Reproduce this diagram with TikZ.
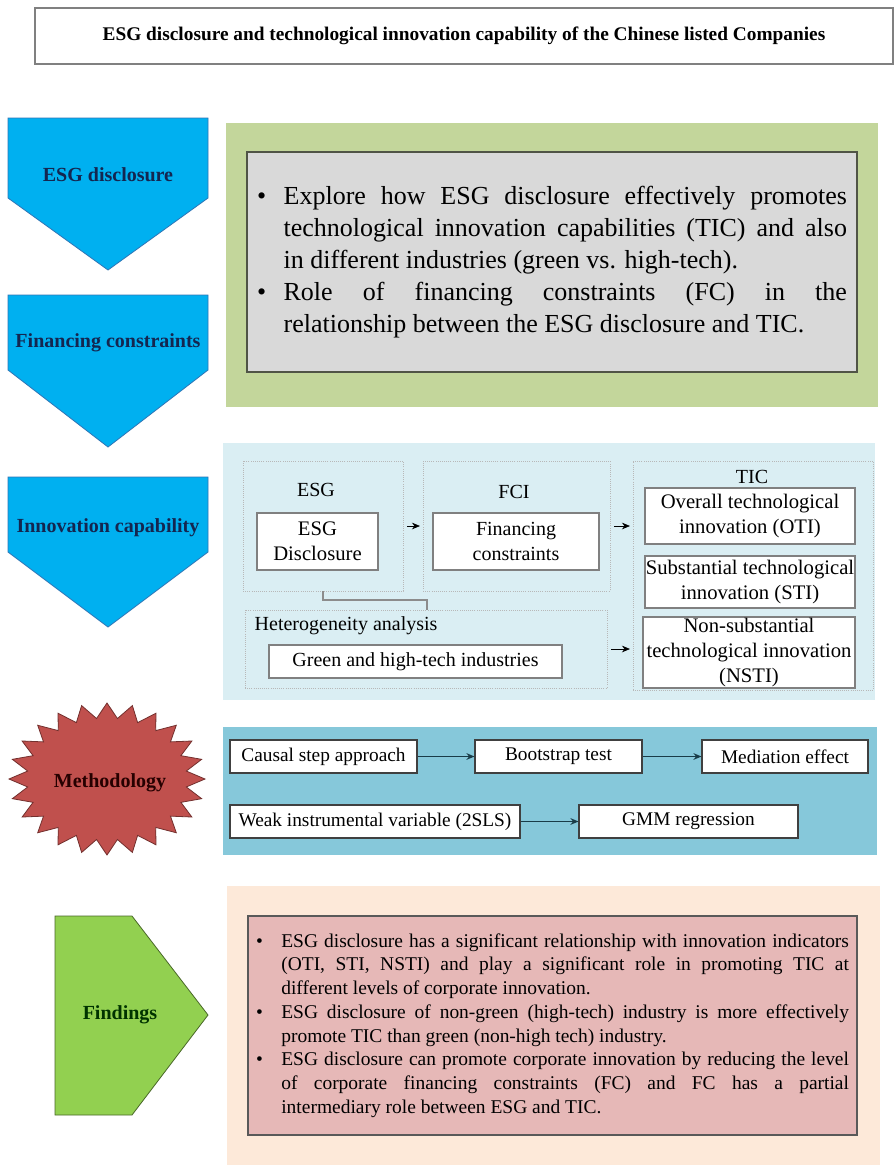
\documentclass[tikz,border=0pt]{standalone}
\usepackage{fontspec}
\setmainfont{Liberation Serif}
\usepackage{tikz}
\usetikzlibrary{arrows.meta, calc, shadows}
\usepackage{xcolor}
\definecolor{arrowblue}{RGB}{0,176,240}
\definecolor{arrowedge}{RGB}{46,117,182}
\definecolor{navytext}{RGB}{20,38,80}
\definecolor{aimgreen}{RGB}{195,214,155}
\definecolor{aimgray}{RGB}{217,217,217}
\definecolor{aimedge}{RGB}{80,84,70}
\definecolor{modelblue}{RGB}{218,238,243}
\definecolor{methodblue}{RGB}{134,200,218}
\definecolor{methodline}{RGB}{25,60,72}
\definecolor{starred}{RGB}{192,80,77}
\definecolor{findgreen}{RGB}{146,208,80}
\definecolor{findpeach}{RGB}{253,233,217}
\definecolor{findpink}{RGB}{230,184,183}
\newdimen\px \px=0.75pt
\newcommand{\bulletpar}[2]{\hangindent=#1\hangafter=1\noindent\makebox[#1][l]{\textbullet}#2\par}
\hyphenpenalty=10000
\exhyphenpenalty=10000

\begin{document}
\begin{tikzpicture}[x=0.75pt, y=-0.75pt,
  armlabel/.style={font=\fontsize{15}{17}\selectfont\bfseries},
  wbox/.style={draw=black!50, fill=white, line width=0.8pt, inner sep=0pt, align=center, font=\fontsize{15.5}{19}\selectfont},
  grp/.style={draw=black!28, densely dotted, line width=0.6pt, inner sep=0pt},
  grplabel/.style={font=\fontsize{15}{17}\selectfont},
  mbox/.style={draw=black!75, fill=white, line width=0.8pt, inner sep=0pt, minimum height=33\px, font=\fontsize{14.5}{17}\selectfont},
  tip/.style={-{Stealth[length=6pt,width=5pt]}, line width=0.5pt},
  mlink/.style={-{Stealth[length=6pt,width=5pt]}, draw=methodline, line width=1.3pt}]
  \useasboundingbox (0,0) rectangle (896,1165);
  \fill[white] (0,0) rectangle (896,1165);

  % title
  \node[draw=black!50, fill=white, line width=0.8pt, drop shadow={opacity=0.25, shadow xshift=1pt, shadow yshift=-1pt},
    minimum width=858\px, minimum height=56\px, font=\fontsize{14.5}{17}\selectfont\bfseries] (title) at (464,36)
    {ESG disclosure and technological innovation capability of the Chinese listed Companies};

  % left arrows
  \filldraw[fill=arrowblue, draw=arrowedge, line width=0.6pt] (8,118) -- (208,118) -- (208,198) -- (108,270) -- (8,198) -- cycle;
  \filldraw[fill=arrowblue, draw=arrowedge, line width=0.6pt] (8,295) -- (208,295) -- (208,370) -- (108,447) -- (8,370) -- cycle;
  \filldraw[fill=arrowblue, draw=arrowedge, line width=0.6pt] (8,477) -- (208,477) -- (208,552) -- (108,627) -- (8,552) -- cycle;
  \node[armlabel, text=navytext] (esglbl) at (108,175) {ESG disclosure};
  \node[armlabel, text=navytext] (fclbl) at (108,343) {Financing constraints};
  \node[armlabel, text=navytext] (innlbl) at (108,528) {Innovation capability};

  % aims
  \fill[aimgreen] (226,123) rectangle (878,407);
  \node[draw=aimedge, fill=aimgray, line width=1pt, drop shadow={opacity=0.35, shadow xshift=1pt, shadow yshift=-1pt},
    minimum width=610\px, minimum height=220\px, text width=590\px, inner sep=0pt, align=justify,
    font=\fontsize{19.5}{24}\selectfont] (aims) at (552,262) {%
    \bulletpar{20pt}{Explore how ESG disclosure effectively promotes\linebreak technological innovation capabilities (TIC) and also\linebreak in different industries (green vs. high-tech).}%
    \bulletpar{20pt}{Role of financing constraints (FC) in the\linebreak relationship between the ESG disclosure and TIC.}};

  % model
  \fill[modelblue] (223,443) rectangle (875,700);
  \node[grp, minimum width=160\px, minimum height=130\px] (esggrp) at (323,526) {};
  \node[grp, minimum width=187\px, minimum height=130\px] (fcigrp) at (516.5,526) {};
  \node[grp, minimum width=240\px, minimum height=229\px] (ticgrp) at (753,575.5) {};
  \node[grp, minimum width=362\px, minimum height=78\px] (hetgrp) at (426,649) {};
  \node[grplabel] (esgname) at (316,490) {ESG};
  \node[grplabel] (fciname) at (514,492) {FCI};
  \node[grplabel] (ticname) at (752,477) {TIC};
  \node[grplabel, anchor=west] (hetname) at (250,626) {Heterogeneity analysis};
  \node[wbox, minimum width=121\px, minimum height=57\px] (esgbox) at (317.5,541.5) {ESG\\Disclosure};
  \node[wbox, minimum width=166\px, minimum height=57\px, font=\fontsize{15}{19}\selectfont] (fcbox) at (516,541.5) {Financing\\constraints};
  \node[wbox, minimum width=210\px, minimum height=56\px] (oti) at (750,516) {Overall technological\\innovation (OTI)};
  \node[wbox, minimum width=210\px, minimum height=52\px] (sti) at (750,582) {Substantial technological\\innovation (STI)};
  \node[wbox, minimum width=212\px, minimum height=71\px] (nsti) at (749,652.5) {Non-substantial\\technological innovation\\(NSTI)};
  \node[wbox, minimum width=293\px, minimum height=33\px, font=\fontsize{15}{17}\selectfont] (green) at (415.5,661.5) {Green and high-tech industries};
  \draw[tip, shorten <=3pt, shorten >=2pt] (esggrp.east) -- (fcigrp.west);
  \draw[tip, shorten <=3pt, shorten >=2pt] (fcigrp.east) -- (fcigrp.east -| ticgrp.west);
  \draw[tip, shorten <=3pt, shorten >=2pt] (hetgrp.east) -- (hetgrp.east -| ticgrp.west);
  \coordinate (elbow) at (427,600);
  \draw[draw=black!45, line width=0.8pt] (esggrp.south) |- (elbow) -- (elbow |- hetgrp.north);

  % methodology
  \filldraw[fill=starred, draw=starred!60!black, line width=0.6pt] (205,779)
    \foreach \k in {0,...,23} { -- ({107+98*cos(\k*15)},{779+76*sin(\k*15)}) -- ({107+80*cos(\k*15+7.5)},{779+61*sin(\k*15+7.5)}) } -- cycle;
  \node[armlabel, text=black!85!red] (methlbl) at (110,783) {Methodology};
  \fill[methodblue] (223,727) rectangle (877,855);
  \node[mbox, minimum width=187\px] (causal) at (323.5,756.5) {Causal step approach};
  \node[mbox, minimum width=167\px] (boot) at (558.5,756.5) {Bootstrap test};
  \node[mbox, minimum width=166\px] (mediation) at (785,756.5) {Mediation effect};
  \node[mbox, minimum width=290\px] (weak) at (375,821.5) {Weak instrumental variable (2SLS)};
  \node[mbox, minimum width=219\px] (gmm) at (688.5,821.5) {GMM regression};
  \draw[mlink] (causal) -- (boot);
  \draw[mlink] (boot) -- (mediation);
  \draw[mlink] (weak) -- (gmm);

  % findings
  \filldraw[fill=findgreen, draw=findgreen!50!black, line width=0.6pt] (55,916) -- (132,916) -- (208,1015) -- (132,1115) -- (55,1115) -- cycle;
  \node[armlabel, text=black!80!green] (findlbl) at (120,1015) {Findings};
  \fill[findpeach] (227,886) rectangle (880,1165);
  \node[draw=black!65, fill=findpink, line width=1pt, drop shadow={opacity=0.35, shadow xshift=1pt, shadow yshift=-1pt},
    minimum width=609\px, minimum height=219\px, text width=593\px, inner sep=0pt, align=justify,
    font=\fontsize{14.6}{17.8}\selectfont] (finds) at (552.5,1025.5) {%
    \bulletpar{19pt}{ESG disclosure has a significant relationship with innovation indicators\linebreak (OTI, STI, NSTI) and play a significant role in promoting TIC at\linebreak different levels of corporate innovation.}%
    \bulletpar{19pt}{ESG disclosure of non-green (high-tech) industry is more effectively\linebreak promote TIC than green (non-high tech) industry.}%
    \bulletpar{19pt}{ESG disclosure can promote corporate innovation by reducing the level\linebreak of corporate financing constraints (FC) and FC has a partial\linebreak intermediary role between ESG and TIC.}};
\end{tikzpicture}
\end{document}
